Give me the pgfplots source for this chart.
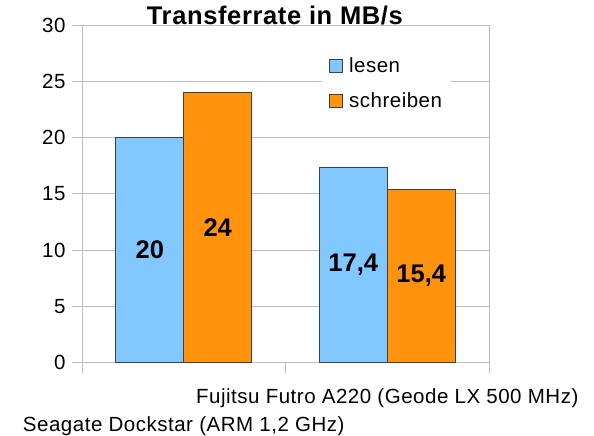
\documentclass[border=0pt]{standalone}
\usepackage{fontspec}
\setmainfont{Liberation Sans}
\newfontfamily\spaced[LetterSpace=2.5]{Liberation Sans}
\usepackage{pgfplots}
\pgfplotsset{compat=1.18}
\definecolor{lesen}{RGB}{128,200,255}
\definecolor{schreiben}{RGB}{255,147,14}
\definecolor{gridgray}{RGB}{190,190,190}

\begin{document}
\begin{tikzpicture}
\begin{axis}[
    scale only axis,
    width=407bp, height=337.7bp,
    ybar=0pt, bar width=0.334,
    xmin=-0.5, xmax=1.5,
    ymin=0, ymax=30,
    ytick={0,5,...,30},
    xtick={0,1},
    xticklabels={{\raisebox{-27.7bp}{Seagate Dockstar (ARM 1,2 GHz)}},{Fujitsu Futro A220 (Geode LX 500 MHz)}},
    minor xtick={-0.5,0.5,1.5},
    major x tick style={draw=none},
    tick align=outside,
    xtick pos=bottom, ytick pos=left,
    major tick length=10bp, minor tick length=10.7bp,
    tick style={gridgray, line width=0.8bp},
    axis line style={gridgray, line width=0.8bp},
    ymajorgrids=true,
    grid style={gridgray, line width=0.8bp},
    tick label style={font=\fontsize{20.5bp}{24bp}\spaced},
    xticklabel style={anchor=base, yshift=-31bp},
    yticklabel style={xshift=-3bp},
    /pgf/number format/assume math mode=true,
    legend style={draw=none, fill=white, at={(0.588,0.828)}, anchor=west,
        font=\fontsize{20.5bp}{24bp}\spaced, row sep=15bp, inner xsep=7bp, inner ysep=8bp,
        /tikz/every odd column/.append style={column sep=5bp}},
    legend cell align=left,
    legend image code/.code={\draw[#1, draw=black!75, line width=0.6bp] (0bp,-6.5bp) rectangle (13bp,6.5bp);},
    nodes near coords={\pgfmathprintnumber[use comma]{\pgfplotspointmeta}},
    visualization depends on=rawy\as\rawy,
    every node near coord/.append style={anchor=center, black,
        font=\fontsize{25.5bp}{30bp}\bfseries\selectfont,
        shift={(axis direction cs:0,-\rawy/2)}},
    clip=false,
]
\addplot[fill=lesen, draw=black!75, line width=0.6bp] coordinates {(0,20) (1,17.4)};
\addlegendentry{lesen}
\addplot[fill=schreiben, draw=black!75, line width=0.6bp] coordinates {(0,24) (1,15.4)};
\addlegendentry{schreiben}
\coordinate (ll) at (rel axis cs:0,0);
\node[anchor=base, inner sep=0pt, font=\fontsize{25.5bp}{30bp}\spaced\bfseries]
    at (rel axis cs:0.474,1) {Transferrate in MB/s};
\end{axis}
\pgfresetboundingbox
\path[use as bounding box] ([shift={(-82bp,-73.3bp)}]ll) rectangle ([shift={(512bp,362.7bp)}]ll);
\end{tikzpicture}
\end{document}
